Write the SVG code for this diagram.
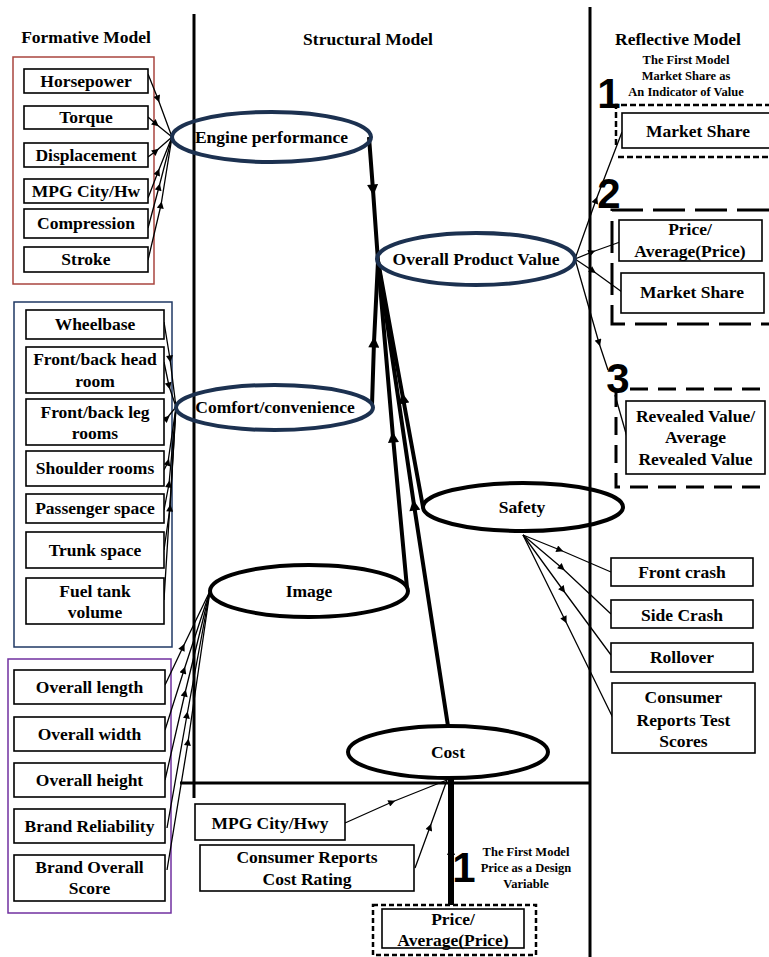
<svg xmlns="http://www.w3.org/2000/svg" width="769" height="957" viewBox="0 0 769 957">
<style>
text{font-family:"Liberation Serif","Times New Roman",serif;font-weight:bold;font-size:17.5px;text-anchor:middle;fill:#000}
.hdr{font-size:17.5px}
.sm{font-size:12.5px}
.big{font-family:"Liberation Sans",Arial,sans-serif;font-size:42px}
.box{fill:#fff;stroke:#000;stroke-width:1.6}
.el{fill:none;stroke:#000;stroke-width:4}
.eln{fill:none;stroke:#1c3150;stroke-width:4}
.thin{fill:none;stroke:#000;stroke-width:1.3;marker-mid:url(#a)}
.thick{fill:none;stroke:#000;stroke-width:4;marker-mid:url(#b)}
.sep{stroke:#000;stroke-width:3;fill:none}
</style>
<defs>
<marker id="a" viewBox="0 0 10 10" refX="5" refY="5" markerWidth="9" markerHeight="7" orient="auto" markerUnits="userSpaceOnUse"><path d="M0,0 L10,5 L0,10 z" fill="#000"/></marker>
<marker id="b" viewBox="0 0 10 10" refX="5" refY="5" markerWidth="13" markerHeight="11" orient="auto" markerUnits="userSpaceOnUse"><path d="M0,0 L10,5 L0,10 z" fill="#000"/></marker>
</defs>
<rect width="769" height="957" fill="#fff"/>

<g id="frame">
<path class="sep" d="M194,14 V798"/>
<path class="sep" d="M590,7 V957"/>
<path class="sep" d="M180,783 H590"/>
<text class="hdr" x="86" y="43">Formative Model</text>
<text class="hdr" x="368" y="45">Structural Model</text>
<text class="hdr" x="678" y="45">Reflective Model</text>
</g>

<g id="group-frames">
<rect x="13" y="57" width="141" height="227" fill="none" stroke="#a9453f" stroke-width="1.5"/>
<rect x="14" y="302" width="158" height="345" fill="none" stroke="#1f3864" stroke-width="1.5"/>
<rect x="8" y="659" width="163" height="254" fill="none" stroke="#7030a0" stroke-width="1.5"/>
</g>

<g id="connectors">
<!-- formative: engine -->
<path class="thin" d="M148,74 L158,99 L172,137"/>
<path class="thin" d="M148,117 L156,124 L172,137"/>
<path class="thin" d="M148,157 L156,151 L172,137"/>
<path class="thin" d="M148,198 L158,172 L172,137"/>
<path class="thin" d="M148,228 L159,187 L172,137"/>
<path class="thin" d="M148,260 L161,205 L172,137"/>
<!-- formative: comfort -->
<path class="thin" d="M164,322 L170,359 L176,407"/>
<path class="thin" d="M164,362 L169,386 L176,407"/>
<path class="thin" d="M164,420 L167,418 L176,407"/>
<path class="thin" d="M164,470 L168,462 L176,407"/>
<path class="thin" d="M164,510 L169,484 L176,407"/>
<path class="thin" d="M164,550 L170,508 L176,407"/>
<path class="thin" d="M164,600 L176,407"/>
<!-- formative: image -->
<path class="thin" d="M165,685 L183,647 L210,591"/>
<path class="thin" d="M165,730 L184,670 L210,591"/>
<path class="thin" d="M165,780 L185,693 L210,591"/>
<path class="thin" d="M167,828 L187,715 L210,591"/>
<path class="thin" d="M167,870 L188,742 L210,591"/>
<!-- structural -->
<path class="thick" d="M369,137 L373,190 L378,261"/>
<path class="thick" d="M372,405 L374,342 L378,261"/>
<path class="thick" d="M407,588 L393,437 L378,261"/>
<path class="thick" d="M423,507 L403,398 L378,261"/>
<path class="thick" d="M448,726 L414,505 L378,261"/>
<!-- cost inputs -->
<path class="thin" d="M345,823 L392,802 L447,780"/>
<path class="thin" d="M415,868 L430,827 L447,780"/>
<path fill="none" stroke="#000" stroke-width="6" d="M451,778 V905"/>
<path fill="#000" d="M451,846 L455,855 L447,855 z"/>
<!-- reflective: OPV -->
<path class="thin" d="M575,259 L596,200 L622,132"/>
<path class="thin" d="M575,259 L592,252 L620,242"/>
<path class="thin" d="M575,259 L593,271 L622,292"/>
<path class="thin" d="M575,259 L599,343 L608,370"/>
<path fill="none" stroke="#000" stroke-width="1.3" d="M615,395 L627,437"/>
<!-- reflective: safety -->
<path class="thin" d="M523,535 L560,550 L611,572"/>
<path class="thin" d="M523,535 L562,568 L611,614"/>
<path class="thin" d="M523,535 L563,590 L611,655"/>
<path class="thin" d="M523,535 L565,620 L613,718"/>
</g>

<g id="engine-indicators">
<rect class="box" x="24" y="69" width="124" height="24"/><text x="86" y="87">Horsepower</text>
<rect class="box" x="24" y="106" width="124" height="23"/><text x="86" y="123">Torque</text>
<rect class="box" x="24" y="143" width="124" height="24"/><text x="86" y="161">Displacement</text>
<rect class="box" x="24" y="179" width="124" height="24"/><text x="86" y="197">MPG City/Hw</text>
<rect class="box" x="24" y="209" width="124" height="29"/><text x="86" y="229">Compression</text>
<rect class="box" x="24" y="247" width="124" height="25"/><text x="86" y="265">Stroke</text>
</g>

<g id="comfort-indicators">
<rect class="box" x="26" y="310" width="138" height="29"/><text x="95" y="330">Wheelbase</text>
<rect class="box" x="26" y="347" width="138" height="46"/><text x="95" y="365">Front/back head</text><text x="95" y="387">room</text>
<rect class="box" x="26" y="399" width="138" height="46"/><text x="95" y="418">Front/back leg</text><text x="95" y="439">rooms</text>
<rect class="box" x="26" y="451" width="138" height="35"/><text x="95" y="474">Shoulder rooms</text>
<rect class="box" x="26" y="494" width="138" height="29"/><text x="95" y="514">Passenger space</text>
<rect class="box" x="26" y="532" width="138" height="36"/><text x="95" y="556">Trunk space</text>
<rect class="box" x="26" y="578" width="138" height="46"/><text x="95" y="597">Fuel tank</text><text x="95" y="618">volume</text>
</g>

<g id="image-indicators">
<rect class="box" x="14" y="670" width="151" height="34"/><text x="89.5" y="693">Overall length</text>
<rect class="box" x="14" y="717" width="151" height="34"/><text x="89.5" y="740">Overall width</text>
<rect class="box" x="14" y="763" width="151" height="34"/><text x="89.5" y="786">Overall height</text>
<rect class="box" x="14" y="809" width="151" height="34"/><text x="89.5" y="832">Brand Reliability</text>
<rect class="box" x="14" y="855" width="151" height="46"/><text x="89.5" y="873">Brand Overall</text><text x="89.5" y="894">Score</text>
</g>

<g id="engine-performance">
<ellipse class="eln" cx="271.5" cy="137" rx="99.5" ry="25"/>
<text x="271.5" y="143">Engine performance</text>
</g>
<g id="comfort-convenience">
<ellipse class="eln" cx="274.5" cy="407.5" rx="98.5" ry="22.5"/>
<text x="275" y="413">Comfort/convenience</text>
</g>
<g id="overall-product-value">
<ellipse class="eln" cx="476" cy="259" rx="99" ry="26"/>
<text x="476" y="265">Overall Product Value</text>
</g>
<g id="image">
<ellipse class="el" cx="309" cy="591" rx="99" ry="26"/>
<text x="309" y="597">Image</text>
</g>
<g id="safety">
<ellipse class="el" cx="523" cy="507" rx="100" ry="24"/>
<text x="522" y="513">Safety</text>
</g>
<g id="cost">
<ellipse class="el" cx="448" cy="752" rx="100" ry="26"/>
<text x="448" y="758">Cost</text>
</g>

<g id="model-1-reflective">
<text class="sm" x="686" y="64">The First Model</text>
<text class="sm" x="686" y="80">Market Share as</text>
<text class="sm" x="686" y="96">An Indicator of Value</text>
<text class="big" x="609" y="108">1</text>
<path fill="none" stroke="#000" stroke-width="2.5" stroke-dasharray="6 3" d="M616,145 V105 H769 M618,157 H769"/>
<rect class="box" x="622" y="113" width="150" height="35"/><text x="698" y="137">Market Share</text>
</g>

<g id="model-2">
<text class="big" x="609" y="208">2</text>
<path fill="none" stroke="#000" stroke-width="3" stroke-dasharray="32 10" d="M769,210 H612 V324 H769"/>
<rect class="box" x="619" y="220" width="143" height="41"/><text x="690" y="235">Price/</text><text x="690" y="257">Average(Price)</text>
<rect class="box" x="621" y="273" width="143" height="40"/><text x="692" y="298">Market Share</text>
</g>

<g id="model-3">
<text class="big" x="618" y="393">3</text>
<path fill="none" stroke="#000" stroke-width="3" stroke-dasharray="18 10" d="M630,389 H769 M616,389 V487 H769"/>
<rect class="box" x="626" y="401" width="139" height="73"/><text x="695.5" y="422">Revealed Value/</text><text x="695.5" y="443">Average</text><text x="695.5" y="465">Revealed Value</text>
</g>

<g id="safety-indicators">
<rect class="box" x="611" y="558" width="142" height="28"/><text x="682" y="578">Front crash</text>
<rect class="box" x="611" y="600" width="142" height="28"/><text x="682" y="621">Side Crash</text>
<rect class="box" x="611" y="643" width="142" height="29"/><text x="682" y="663">Rollover</text>
<rect class="box" x="612" y="683" width="143" height="70"/><text x="683.5" y="703">Consumer</text><text x="683.5" y="726">Reports Test</text><text x="683.5" y="747">Scores</text>
</g>

<g id="cost-indicators">
<rect class="box" x="195" y="804" width="150" height="36"/><text x="270" y="829">MPG City/Hwy</text>
<rect class="box" x="200" y="845" width="214" height="46"/><text x="307" y="863">Consumer Reports</text><text x="307" y="885">Cost Rating</text>
</g>

<g id="model-1-design">
<text class="big" x="464" y="882">1</text>
<text class="sm" x="526" y="856">The First Model</text>
<text class="sm" x="526" y="872">Price as a Design</text>
<text class="sm" x="526" y="888">Variable</text>
<rect x="373" y="905" width="163" height="50" fill="none" stroke="#000" stroke-width="2.5" stroke-dasharray="5 3"/>
<rect class="box" x="382" y="909" width="142" height="39"/><text x="453" y="925">Price/</text><text x="453" y="946">Average(Price)</text>
</g>
</svg>
